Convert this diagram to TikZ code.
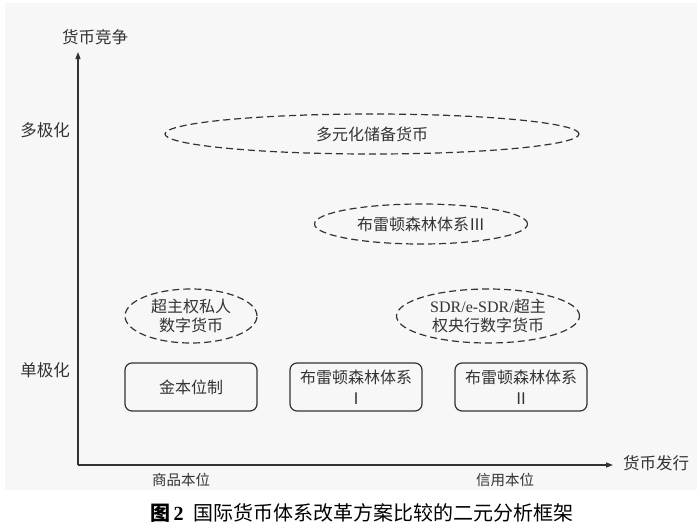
\documentclass[tikz,border=0pt]{standalone}
\usepackage{fontspec}
\setmainfont{Liberation Serif}
\newfontfamily\cjk{Noto Sans CJK SC}
\usetikzlibrary{arrows.meta,shapes.geometric}
\definecolor{ink}{HTML}{333333}
\definecolor{bg}{HTML}{F7F7F7}
\begin{document}
\begin{tikzpicture}[x=1pt,y=-1pt,
  lbl/.style={font=\cjk\fontsize{16.5}{18}\selectfont, text=ink, inner sep=0pt},
  ell/.style={ellipse, draw=ink, line width=1.2pt, dash pattern=on 7pt off 4pt, inner sep=0pt, text=ink, align=center, font=\cjk\fontsize{16}{19.5}\selectfont},
  rbox/.style={draw=ink, line width=1.2pt, rounded corners=7pt, minimum width=132pt, minimum height=48pt, inner sep=0pt, text=ink, align=center, font=\cjk\fontsize{16}{21}\selectfont},
  axis/.style={draw=ink, line width=1.2pt, -{Triangle[length=7pt,width=5pt]}}]
\useasboundingbox[fill=white] (0,0) rectangle (700,530);
\fill[bg] (5,3) rectangle (697,490);
% axes
\coordinate (O) at (78,465);
\coordinate (ytip) at (78,52);
\coordinate (xtip) at (613,465);
\draw[axis] (O) -- (ytip);
\draw[axis] (O) -- (xtip);
\node[lbl] (ylab) at (95,37) {货币竞争};
\node[lbl] (xlab) at (656,463) {货币发行};
\node[lbl] (multi) at (45,130) {多极化};
\node[lbl] (uni) at (45,370) {单极化};
\node[lbl, font=\cjk\fontsize{14.5}{16}\selectfont] (comm) at (181,480) {商品本位};
\node[lbl, font=\cjk\fontsize{14.5}{16}\selectfont] (cred) at (505,480) {信用本位};
% ellipses
\node[ell, minimum width=414pt, minimum height=40pt] (e1) at (372,134) {多元化储备货币};
\node[ell, minimum width=213pt, minimum height=40pt] (e2) at (421,224) {布雷顿森林体系Ⅲ};
\node[ell, minimum width=132pt, minimum height=54pt] (e3) at (191,316) {超主权私人\\数字货币};
\node[ell, minimum width=183pt, minimum height=54pt] (e4) at (488,316) {{\rmfamily SDR/e-SDR/}超主\\权央行数字货币};
% boxes
\node[rbox] (b1) at (191,387) {金本位制};
\node[rbox] (b2) at (356,387) {布雷顿森林体系\\Ⅰ};
\node[rbox] (b3) at (521,387) {布雷顿森林体系\\Ⅱ};
% caption
\node[text=black, inner sep=0pt] (cap) at (362,513) {\fontsize{20}{24}\selectfont{\cjk\bfseries 图}\,\textbf{2}\ \ {\cjk 国际货币体系改革方案比较的二元分析框架}};
\end{tikzpicture}
\end{document}
